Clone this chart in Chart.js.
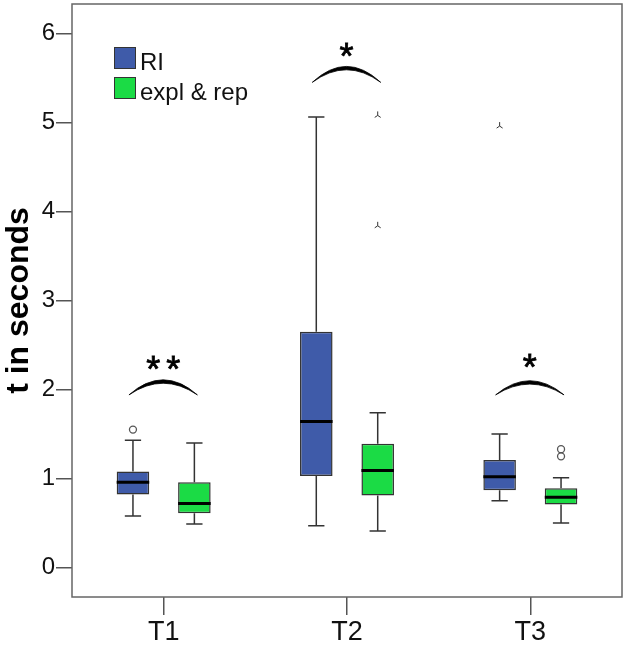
<!DOCTYPE html>
<html>
<head>
<meta charset="utf-8">
<script src="https://cdn.jsdelivr.net/npm/chart.js@4.4.1/dist/chart.umd.min.js"></script>
<style>
  html, body { margin: 0; padding: 0; background: #fff; }
  #wrap { width: 625px; height: 646px; }
</style>
</head>
<body>
<div id="wrap"><canvas id="c" width="625" height="646"></canvas></div>
<script>
// ---- data ----
const categories = ['T1', 'T2', 'T3'];
const seriesNames = ['RI', 'expl & rep'];
const seriesColors = ['#3f5ba9', '#1bdb45'];
const yTicks = [0, 1, 2, 3, 4, 5, 6];

const riWhiskerLow  = [0.58, 0.47, 0.75];
const riQ1          = [0.82, 1.03, 0.87];
const riMedian      = [0.96, 1.64, 1.02];
const riQ3          = [1.08, 2.65, 1.21];
const riWhiskerHigh = [1.43, 5.06, 1.50];
const riOutliers    = [[1.55], [], []];
const riExtremes    = [[], [], [4.97]];

const erWhiskerLow  = [0.49, 0.41, 0.50];
const erQ1          = [0.61, 0.81, 0.71];
const erMedian      = [0.72, 1.09, 0.79];
const erQ3          = [0.96, 1.39, 0.89];
const erWhiskerHigh = [1.40, 1.74, 1.01];
const erOutliers    = [[], [], [1.33, 1.25]];
const erExtremes    = [[], [5.09, 3.85], []];

const sigLabels   = ['**', '*', '*'];
const sigArcEnd   = [1.94, 5.45, 1.94];
const sigArcPeak  = [2.09, 5.61, 2.08];
const sigStarMid  = [2.30, 5.81, 2.32];

const stats = [
  { low: riWhiskerLow, q1: riQ1, med: riMedian, q3: riQ3, high: riWhiskerHigh, out: riOutliers, ext: riExtremes },
  { low: erWhiskerLow, q1: erQ1, med: erMedian, q3: erQ3, high: erWhiskerHigh, out: erOutliers, ext: erExtremes }
];

const FONT = "'Liberation Sans', Arial, sans-serif";

const boxPlugin = {
  id: 'boxExtras',
  afterDatasetsDraw(chart) {
    const ctx = chart.ctx;
    const y = chart.scales.y;
    ctx.save();
    stats.forEach((s, di) => {
      const meta = chart.getDatasetMeta(di);
      meta.data.forEach((bar, i) => {
        const cx = bar.x;
        const w = bar.width;
        ctx.strokeStyle = '#333';
        ctx.lineWidth = 1.5;
        const pq1 = y.getPixelForValue(s.q1[i]);
        const pq3 = y.getPixelForValue(s.q3[i]);
        const plo = y.getPixelForValue(s.low[i]);
        const phi = y.getPixelForValue(s.high[i]);
        ctx.beginPath();
        ctx.moveTo(cx, pq3); ctx.lineTo(cx, phi);
        ctx.moveTo(cx, pq1); ctx.lineTo(cx, plo);
        ctx.moveTo(cx - w / 4, phi); ctx.lineTo(cx + w / 4, phi);
        ctx.moveTo(cx - w / 4, plo); ctx.lineTo(cx + w / 4, plo);
        ctx.stroke();
        // median
        ctx.strokeStyle = '#000';
        ctx.lineWidth = 3;
        const pm = y.getPixelForValue(s.med[i]);
        ctx.beginPath();
        ctx.moveTo(cx - w / 2, pm); ctx.lineTo(cx + w / 2, pm);
        ctx.stroke();
        // outliers (circles)
        ctx.strokeStyle = '#555';
        ctx.lineWidth = 1.3;
        s.out[i].forEach(v => {
          ctx.beginPath();
          ctx.arc(cx, y.getPixelForValue(v), 3.5, 0, Math.PI * 2);
          ctx.stroke();
        });
        // extremes (small tri-star)
        ctx.strokeStyle = '#333';
        ctx.lineWidth = 1;
        s.ext[i].forEach(v => {
          const py = y.getPixelForValue(v);
          ctx.beginPath();
          ctx.moveTo(cx, py - 3); ctx.lineTo(cx, py + 1);
          ctx.moveTo(cx, py + 1); ctx.lineTo(cx - 3, py + 3);
          ctx.moveTo(cx, py + 1); ctx.lineTo(cx + 3, py + 3);
          ctx.stroke();
        });
      });
    });
    // significance arcs
    const m0 = chart.getDatasetMeta(0), m1 = chart.getDatasetMeta(1);
    categories.forEach((c, i) => {
      const xl = m0.data[i].x - 4;
      const xr = m1.data[i].x + 3;
      const pe = y.getPixelForValue(sigArcEnd[i]);
      const pp = y.getPixelForValue(sigArcPeak[i]);
      const xm = (xl + xr) / 2;
      ctx.fillStyle = '#000';
      ctx.beginPath();
      ctx.moveTo(xl, pe);
      ctx.quadraticCurveTo(xm, 2 * (pp - 1.7) - pe, xr, pe);
      ctx.quadraticCurveTo(xm, 2 * (pp + 1.7) - pe, xl, pe);
      ctx.closePath();
      ctx.fill();
      ctx.strokeStyle = '#000';
      ctx.lineWidth = 0.8;
      ctx.stroke();
      // stars, centred vertically on their value
      const fs = 36;
      ctx.font = fs + 'px ' + FONT;
      ctx.textAlign = 'left';
      ctx.textBaseline = 'alphabetic';
      ctx.letterSpacing = '6px';
      const ps = y.getPixelForValue(sigStarMid[i]);
      const mt = ctx.measureText(sigLabels[i]);
      const tw = mt.width - 6;
      const base = ps + (mt.actualBoundingBoxAscent - mt.actualBoundingBoxDescent) / 2;
      ctx.lineWidth = 0.8;
      ctx.fillText(sigLabels[i], xm - tw / 2, base);
      ctx.strokeText(sigLabels[i], xm - tw / 2, base);
      ctx.letterSpacing = '0px';
    });
    ctx.restore();
  },
  afterDraw(chart) {
    const ctx = chart.ctx;
    const a = chart.chartArea;
    ctx.save();
    ctx.strokeStyle = '#666';
    ctx.lineWidth = 1.5;
    ctx.strokeRect(a.left, a.top, a.right - a.left, a.bottom - a.top);
    // legend
    const lx = 114, ly = [47, 77], sz = 22;
    ctx.font = '24px ' + FONT;
    ctx.textAlign = 'left';
    ctx.textBaseline = 'alphabetic';
    chart.data.datasets.forEach((ds, i) => {
      ctx.fillStyle = ds.backgroundColor;
      ctx.fillRect(lx, ly[i], sz, sz);
      ctx.strokeStyle = '#333';
      ctx.lineWidth = 1;
      ctx.strokeRect(lx + 0.5, ly[i] + 0.5, sz - 1, sz - 1);
      ctx.fillStyle = '#111';
      ctx.fillText(ds.label, lx + sz + 4, ly[i] + sz + 1);
    });
    ctx.restore();
  }
};

const datasets = stats.map((s, di) => ({
  label: seriesNames[di],
  data: s.q1.map((v, i) => [v, s.q3[i]]),
  backgroundColor: seriesColors[di],
  borderColor: '#333',
  borderWidth: 1.5,
  borderSkipped: false,
  categoryPercentage: 0.67,
  barPercentage: 0.53
}));

new Chart(document.getElementById('c'), {
  type: 'bar',
  data: { labels: categories, datasets },
  options: {
    responsive: false,
    animation: false,
    devicePixelRatio: 1,
    layout: { padding: { top: 4, right: 3, left: 0, bottom: 0 } },
    plugins: { legend: { display: false }, tooltip: { enabled: false } },
    scales: {
      x: {
        offset: true,
        grid: { display: true, drawOnChartArea: false, offset: false, tickLength: 18, color: '#555', lineWidth: 1.5 },
        border: { display: false },
        ticks: { color: '#111', font: { family: FONT, size: 27 }, padding: 1 },
        afterFit(scale) { scale.height = 49; scale.paddingLeft = 0; scale.paddingRight = 0; }
      },
      y: {
        min: -0.33,
        max: 6.33,
        afterBuildTicks(scale) { scale.ticks = yTicks.map(v => ({ value: v })); },
        grid: { display: true, drawOnChartArea: false, tickLength: 16, color: '#555', lineWidth: 1.5 },
        border: { display: false },
        ticks: { color: '#111', font: { family: FONT, size: 24 }, padding: 1 },
        title: { display: true, text: 't in seconds', color: '#000', font: { family: FONT, size: 32, weight: 'bold' }, padding: { top: 0, bottom: 0 } },
        afterFit(scale) { scale.width = 72; scale.paddingTop = 0; scale.paddingBottom = 0; }
      }
    }
  },
  plugins: [boxPlugin]
});
</script>
</body>
</html>
